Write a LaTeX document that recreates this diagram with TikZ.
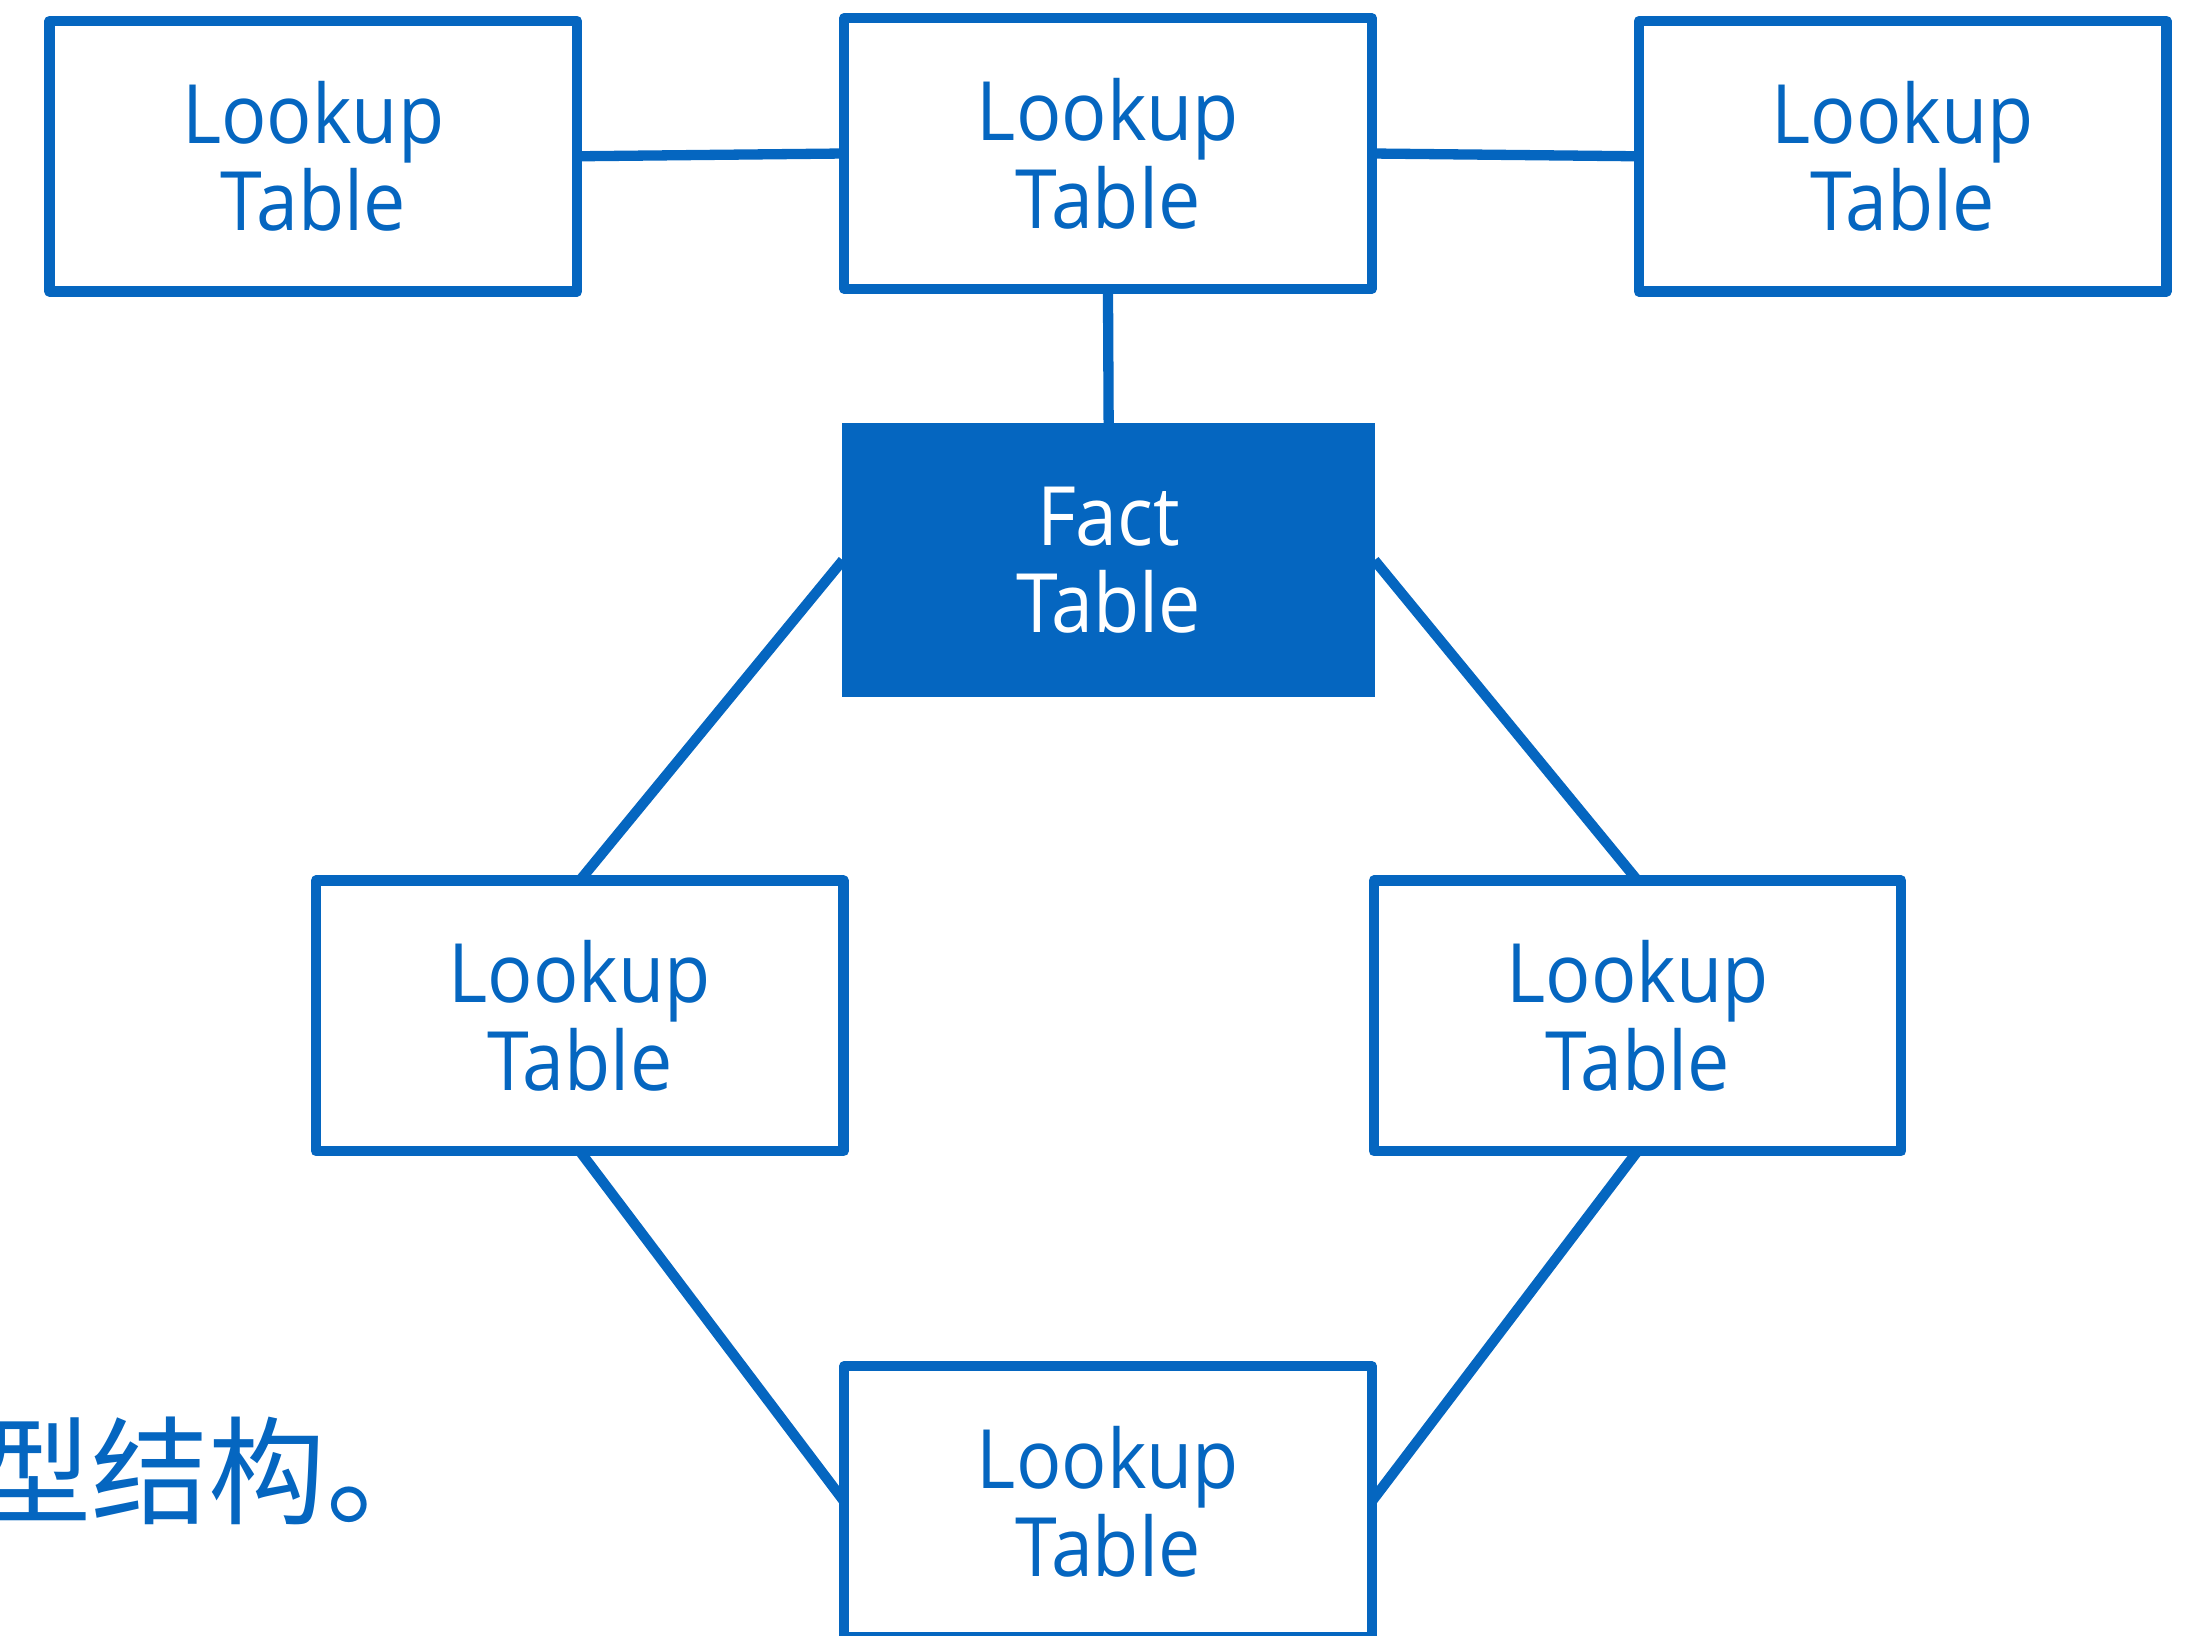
\documentclass[tikz,border=0pt]{standalone}
\usepackage{fontspec}
\newfontfamily\lkfont[FakeStretch=0.92]{Open Sans}
\newfontfamily\cjkfont{Noto Sans CJK SC}
\definecolor{sblue}{RGB}{5,102,192}
\tikzset{
  lkbox/.style={draw=sblue, line width=2.1pt, line join=round, fill=white,
    minimum width=3.78cm, minimum height=1.94cm, inner sep=0pt, outer sep=0pt,
    align=center, text=sblue, font={\lkfont\fontsize{16.7}{17.9}\selectfont}},
  factbox/.style={draw=sblue, line width=0.4pt, fill=sblue,
    minimum width=3.81cm, minimum height=1.95cm, inner sep=0pt, outer sep=0pt,
    align=center, text=white, font={\lkfont\fontsize{16.7}{17.9}\selectfont}},
  conn/.style={draw=sblue, line width=2.1pt}
}
\begin{document}
\begin{tikzpicture}
\useasboundingbox (0,0) rectangle (15.68,-11.72);
\node[lkbox] (tl) at (2.245,-1.12) {Lookup\\Table};
\node[lkbox] (tm) at (7.94,-1.10) {Lookup\\Table};
\node[lkbox] (tr) at (13.635,-1.12) {Lookup\\Table};
\node[factbox] (fact) at (7.945,-4.015) {Fact\\Table};
\node[lkbox] (ml) at (4.155,-7.28) {Lookup\\Table};
\node[lkbox] (mr) at (11.735,-7.28) {Lookup\\Table};
\node[lkbox] (bt) at (7.94,-10.76) {Lookup\\Table};
\draw[conn] (tl.east) -- (tm.west);
\draw[conn] (tm.east) -- (tr.west);
\draw[conn] (tm.south) -- (fact.north);
\draw[conn] (fact.west) -- (ml.north);
\draw[conn] (fact.east) -- (mr.north);
\draw[conn] (ml.south) -- (bt.west);
\draw[conn] (mr.south) -- (bt.east);
\node[anchor=base west, inner sep=0pt, text=sblue, font={\cjkfont\fontsize{23.9}{26}\selectfont}] (cap) at (-0.19,-10.86) {型结构。};
\end{tikzpicture}
\end{document}
